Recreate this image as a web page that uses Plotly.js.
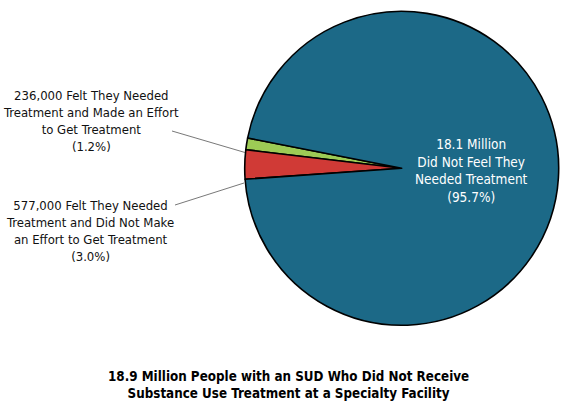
<!DOCTYPE html>
<html><head><meta charset="utf-8">
<script src="https://cdn.plot.ly/plotly-3.0.1.min.js"></script>
<style>html,body{margin:0;padding:0;background:#fff}#chart{width:570px;height:405px}</style>
</head><body><div id="chart"></div>
<script>
const categories = [
  "236,000 Felt They Needed Treatment and Made an Effort to Get Treatment",
  "577,000 Felt They Needed Treatment and Did Not Make an Effort to Get Treatment",
  "18.1 Million Did Not Feel They Needed Treatment"
];
const percents = [1.2, 3.0, 95.7];
const sliceColors = ["#9dcb55", "#d03a36", "#1c6987"];
const labelTexts = [
  "236,000 Felt They Needed<br>Treatment and Made an Effort<br>to Get Treatment<br>(1.2%)",
  "577,000 Felt They Needed<br>Treatment and Did Not Make<br>an Effort to Get Treatment<br>(3.0%)",
  "18.1 Million<br>Did Not Feel They<br>Needed Treatment<br>(95.7%)"
];
const titleText = "18.9 Million People with an SUD Who Did Not Receive<br>Substance Use Treatment at a Specialty Facility";

const W = 570, H = 405;
const FONT = "'DejaVu Sans Condensed', Roboto, sans-serif";
const cx = 401.7, cy = 168.3, r = 157;
const px = x => x / W, py = y => 1 - y / H;

const trace = {
  type: 'pie',
  labels: categories,
  values: percents,
  sort: false,
  direction: 'counterclockwise',
  rotation: -83.2,
  marker: {colors: sliceColors, line: {color: '#000', width: 1.6}},
  textinfo: 'none',
  hoverinfo: 'label+value',
  showlegend: false,
  domain: {x: [px(cx - r), px(cx + r)], y: [py(cy + r), py(cy - r)]}
};

const layout = {
  width: W, height: H,
  margin: {l: 0, r: 0, t: 0, b: 0},
  paper_bgcolor: '#fff',
  showlegend: false,
  font: {family: FONT, color: '#111'},
  annotations: [
    {text: labelTexts[0], x: px(91), y: py(120.5), xref: 'paper', yref: 'paper',
     xanchor: 'center', yanchor: 'middle', align: 'center', showarrow: false,
     font: {family: FONT, size: 13, color: '#111'}},
    {text: labelTexts[1], x: px(90), y: py(231), xref: 'paper', yref: 'paper',
     xanchor: 'center', yanchor: 'middle', align: 'center', showarrow: false,
     font: {family: FONT, size: 13, color: '#111'}},
    {text: labelTexts[2], x: px(471), y: py(170), xref: 'paper', yref: 'paper',
     xanchor: 'center', yanchor: 'middle', align: 'center', showarrow: false,
     font: {family: FONT, size: 13.5, color: '#fff'}},
    {text: titleText, x: px(288), y: py(385), xref: 'paper', yref: 'paper',
     xanchor: 'center', yanchor: 'middle', align: 'center', showarrow: false,
     font: {family: FONT, size: 13.3, color: '#000', weight: 'bold'}}
  ],
  shapes: [
    {type: 'line', xref: 'paper', yref: 'paper', x0: px(172), y0: py(131), x1: px(245), y1: py(152.5),
     line: {color: '#555', width: 0.8}},
    {type: 'line', xref: 'paper', yref: 'paper', x0: px(175), y0: py(205), x1: px(244), y1: py(183),
     line: {color: '#555', width: 0.8}}
  ]
};

Plotly.newPlot('chart', [trace], layout, {displayModeBar: false, staticPlot: true});
</script></body></html>
